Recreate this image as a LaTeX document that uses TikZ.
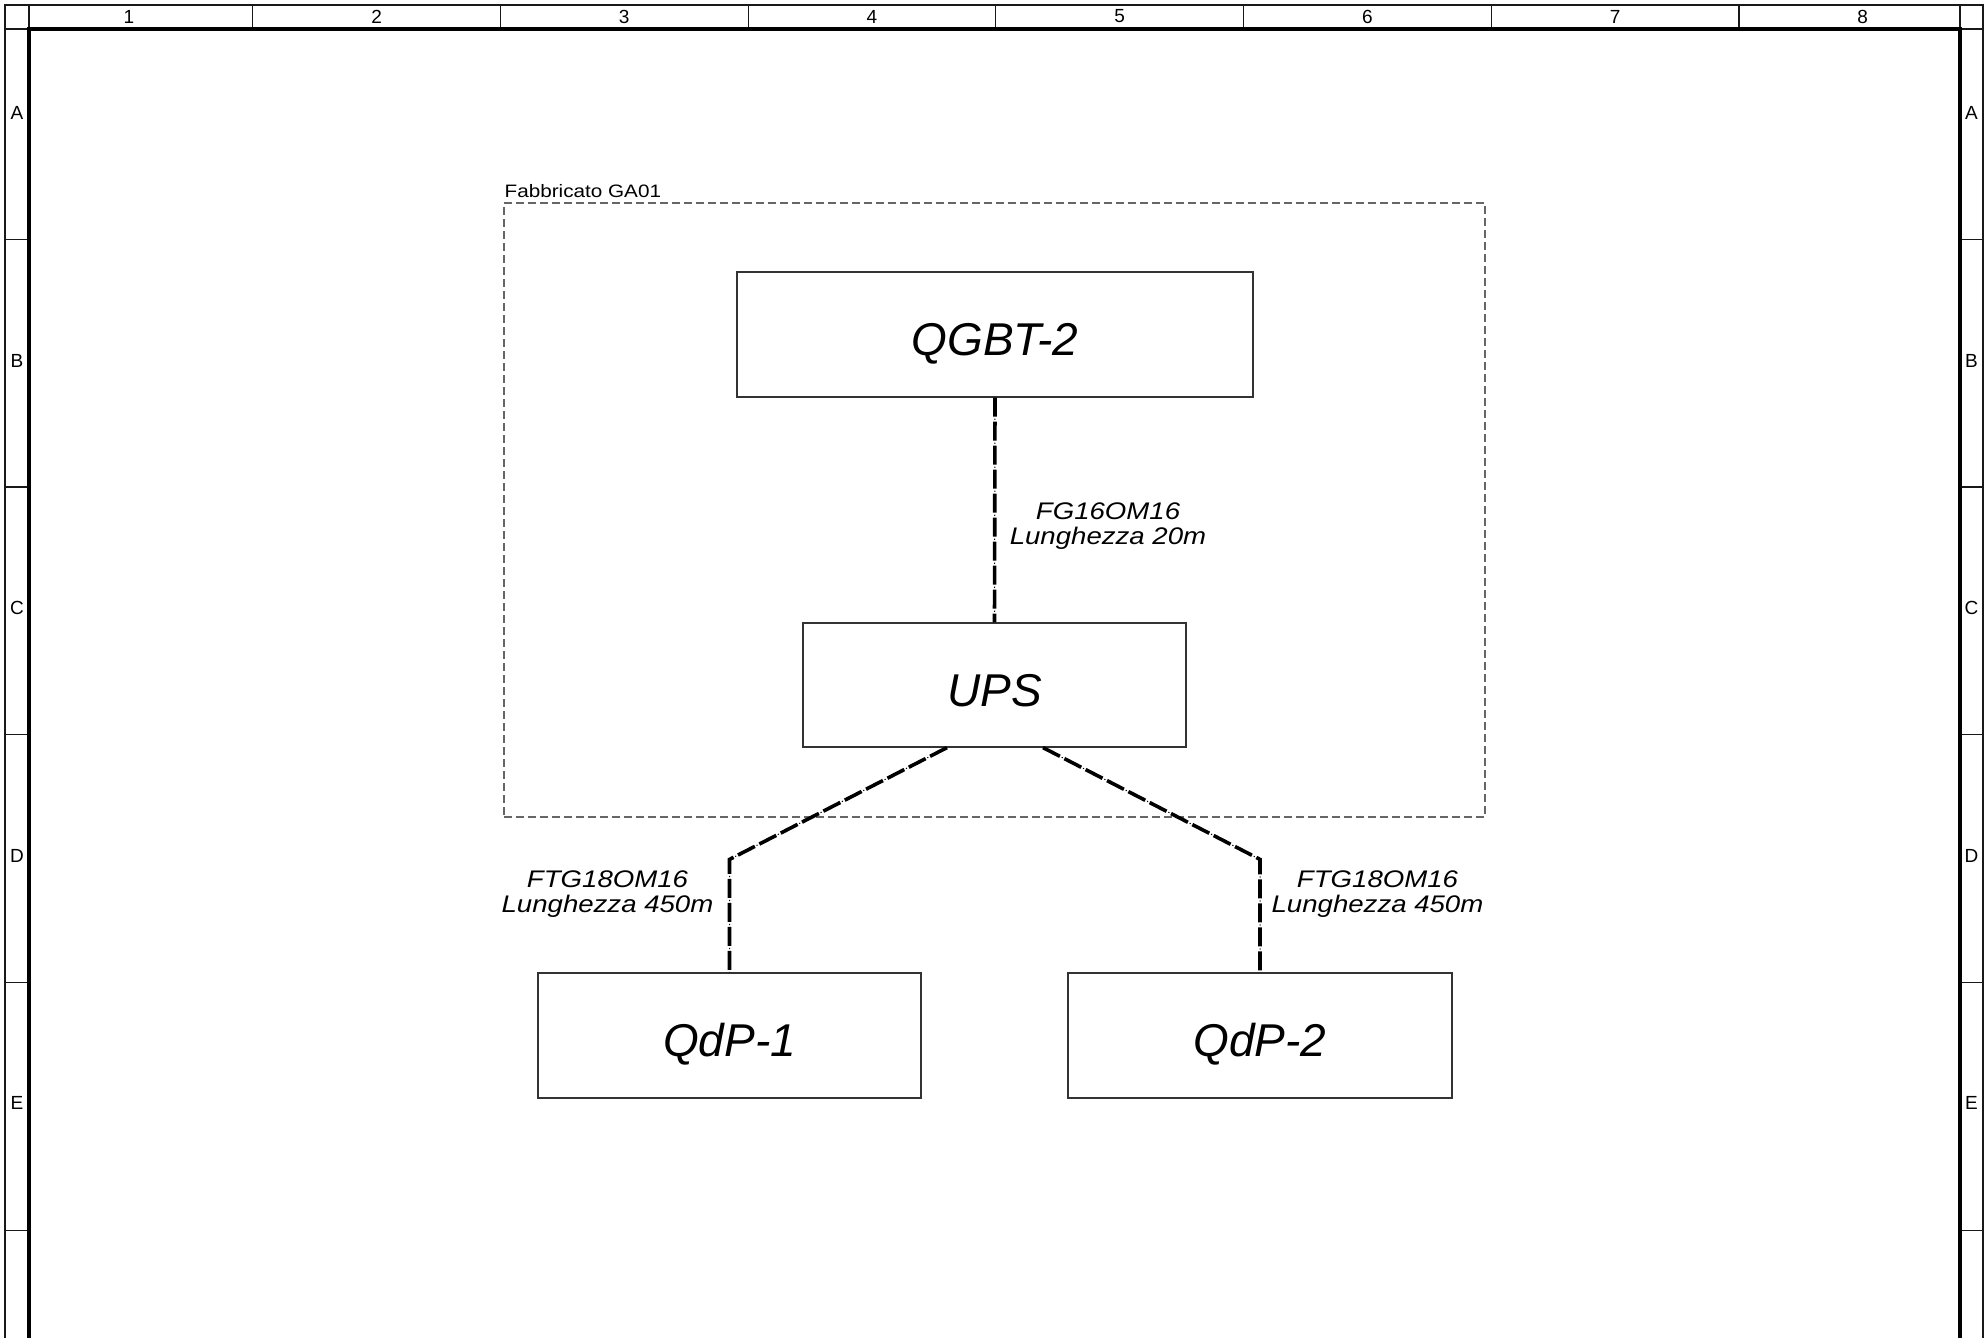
\documentclass[tikz,border=0pt]{standalone}
\usepackage{fontspec}
\setmainfont{Liberation Sans}
\newfontfamily\cadfont[FakeStretch=1.15]{Liberation Sans}
\usetikzlibrary{calc}
\begin{document}
\begin{tikzpicture}[x=1pt,y=-1pt,
  gridline/.style={draw=black!90,line width=1.2pt},
  thickframe/.style={draw=black,line width=4.6pt},
  gridtext/.style={inner sep=0pt,font=\fontsize{19}{21}\selectfont},
  panel/.style={draw=black!80,line width=1.2pt,minimum width=383pt,minimum height=124pt,
    inner sep=0pt,text height=42pt,text depth=0pt,font=\fontsize{46}{52}\selectfont\itshape},
  groupframe/.style={draw=black!60,line width=1.2pt,dash pattern=on 8pt off 4pt,
    minimum width=981pt,minimum height=614pt,inner sep=0pt},
  grouplabel/.style={inner sep=0pt,font=\cadfont\fontsize{18}{20}\selectfont},
  cable/.style={line width=3.6pt,dash pattern=on 19pt off 5pt,
    postaction={draw,line width=1pt,dash pattern=on 1.2pt off 22.8pt,dash phase=3pt}},
  cablelabel/.style={inner sep=0pt,align=center,font=\cadfont\fontsize{24}{25.5}\selectfont\itshape}
]
\useasboundingbox (0,0) rectangle (1984,1338);
\fill[white] (0,0) rectangle (1984,1338);

% ---- sheet frame ----
\draw[gridline] (5,1345) -- (5,5) -- (1983,5) -- (1983,1345);
\draw[gridline] (5,29) -- (1983,29);
\draw[gridline] (29,5) -- (29,29);
\draw[gridline] (1960,5) -- (1960,29);
\foreach \i in {1,...,7} \draw[gridline] ({5+247.7*\i},5) -- ({5+247.7*\i},29);
\foreach \k in {0,...,4} {
  \draw[gridline] (5,{239.3+247.7*\k}) -- (29,{239.3+247.7*\k});
  \draw[gridline] (1960,{239.3+247.7*\k}) -- (1983,{239.3+247.7*\k});
}
\draw[thickframe] (29,1345) -- (29,29) -- (1960,29) -- (1960,1345);
\foreach \i in {1,...,8} \node[gridtext] (col\i) at ({5+247.7*(\i-0.5)},16.5) {\i};
\foreach \l [count=\k from 0] in {A,B,C,D,E} {
  \node[gridtext] (rowl\l) at (17,{113+247.5*\k}) {\l};
  \node[gridtext] (rowr\l) at (1971.5,{113+247.5*\k}) {\l};
}

% ---- building group ----
\node[groupframe] (fab) at (994.5,510) {};
\node[grouplabel,anchor=base west] (fablbl) at ([xshift=1pt,yshift=5pt]fab.north west) {Fabbricato GA01};

% ---- panels ----
\node[panel,minimum width=516pt,minimum height=125pt] (qgbt) at (995,334.5) {QGBT-2};
\node[panel] (ups) at (994.5,685) {UPS};
\node[panel,minimum height=125pt] (q1) at (729.5,1035.5) {QdP-1};
\node[panel,minimum width=384pt,minimum height=125pt] (q2) at (1260,1035.5) {QdP-2};

% ---- cables ----
\draw[cable] (qgbt.south) -- (ups.north);
\draw[cable] ([xshift=-47.5pt]ups.south) -- ([yshift=113pt]q1.north) -- (q1.north);
\draw[cable] ([xshift=48.5pt]ups.south) -- ([yshift=113pt]q2.north) -- (q2.north);

% ---- cable labels ----
\node[cablelabel] (lblA) at (1108,526) {FG16OM16\\Lunghezza 20m};
\node[cablelabel] (lblB) at (607.5,894) {FTG18OM16\\Lunghezza 450m};
\node[cablelabel] (lblC) at (1377.5,894) {FTG18OM16\\Lunghezza 450m};
\end{tikzpicture}
\end{document}
